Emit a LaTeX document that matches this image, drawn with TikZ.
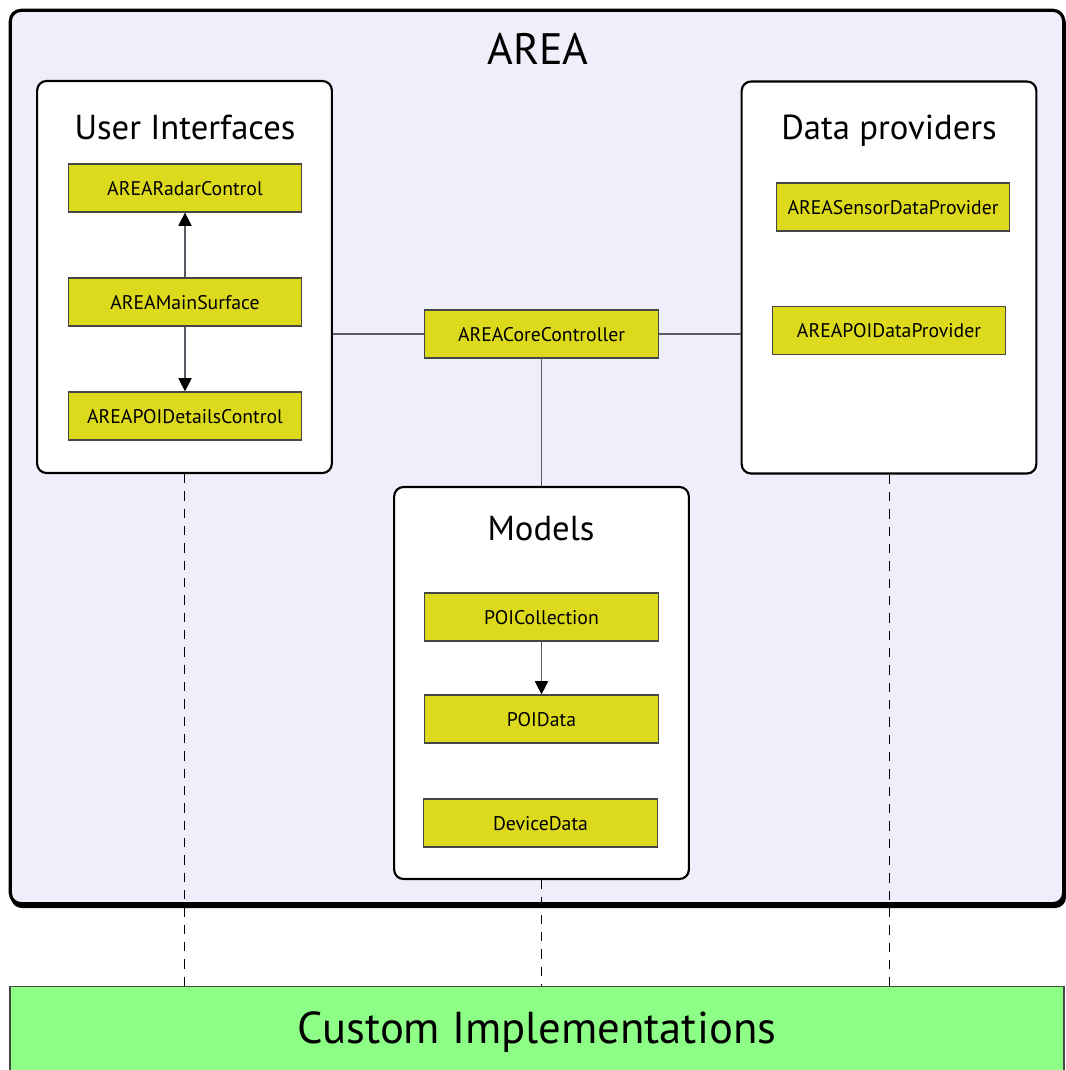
\documentclass[tikz,border=0pt]{standalone}
\usepackage{fontspec}
\setmainfont{PT Sans}
\usetikzlibrary{arrows.meta}
\definecolor{areabg}{RGB}{239,239,252}
\definecolor{cls}{RGB}{221,218,30}
\definecolor{clsline}{RGB}{70,70,70}
\definecolor{custom}{RGB}{142,255,134}
\definecolor{conn}{RGB}{90,90,100}
\tikzset{
  cls/.style={draw=clsline, line width=0.9pt, fill=cls, inner sep=0pt, minimum width=175pt, minimum height=36pt, text height=1.3em, text depth=0.2em, font=\fontsize{14.8}{17}\selectfont},
  pkg/.style={draw=black, line width=1.6pt, fill=white, rounded corners=7pt, inner sep=0pt, minimum width=221pt, minimum height=294pt},
  pkgtitle/.style={font=\fontsize{26}{30}\selectfont, inner sep=0pt, text height=1.1em, text depth=0.2em},
  link/.style={draw=conn, line width=0.8pt},
  arr/.style={link, -{Triangle[width=10pt,length=10pt,color=black,fill=black]}},
  dep/.style={draw=black, line width=0.7pt, dash pattern=on 7pt off 6pt}
}
\begin{document}
\begin{tikzpicture}[x=0.75pt,y=-0.75pt]
\useasboundingbox (0,0) rectangle (1066,1070);
% outer AREA frame with shadow
\fill[black, rounded corners=8pt] (11,13) rectangle (1066,908);
\node[draw=black, line width=2.4pt, fill=areabg, rounded corners=8pt, inner sep=0pt, minimum width=790pt, minimum height=670pt] (area) at (537,457) {};
\node[font=\fontsize{33}{38}\selectfont, inner sep=0pt, text height=1.1em, text depth=0.2em] (areatitle) at (538,59) {AREA};
% packages
\node[pkg] (ui) at (184.5,277) {};
\node[pkg] (dp) at (889,277.5) {};
\node[pkg] (models) at (541.5,683) {};
\node[pkgtitle] (uititle) at (185,134) {User Interfaces};
\node[pkgtitle] (dptitle) at (889,134) {Data providers};
\node[pkgtitle] (modelstitle) at (541,534) {Models};
% classes
\node[cls] (radar) at (185,188) {AREARadarControl};
\node[cls] (main) at (185,302) {AREAMainSurface};
\node[cls] (details) at (185,416) {AREAPOIDetailsControl};
\node[cls] (sensor) at (893,207) {AREASensorDataProvider};
\node[cls] (poidp) at (889,330.5) {AREAPOIDataProvider};
\node[cls] (core) at (541.5,334) {AREACoreController};
\node[cls] (poicoll) at (541.5,617) {POICollection};
\node[cls] (poidata) at (541.5,719) {POIData};
\node[cls] (device) at (540.5,823) {DeviceData};
% connectors
\draw[arr] (main.north) -- (radar.south);
\draw[arr] (main.south) -- (details.north);
\draw[arr] (poicoll.south) -- (poidata.north);
\draw[link] (core.west) -- (core.west -| ui.east);
\draw[link] (core.east) -- (core.east -| dp.west);
\draw[link] (core.south) -- (models.north);
% custom implementations
\node[draw=clsline, line width=0.8pt, fill=custom, inner sep=0pt, minimum width=790.5pt, minimum height=64pt, text height=1.5em, text depth=0.2em, font=\fontsize{33.5}{38}\selectfont] (custom) at (537,1029) {\raisebox{-4pt}{Custom Implementations}};
\draw[dep] (ui.south) -- (ui.south |- custom.north);
\draw[dep] (models.south) -- (models.south |- custom.north);
\draw[dep] (dp.south) -- (dp.south |- custom.north);
\end{tikzpicture}
\end{document}
